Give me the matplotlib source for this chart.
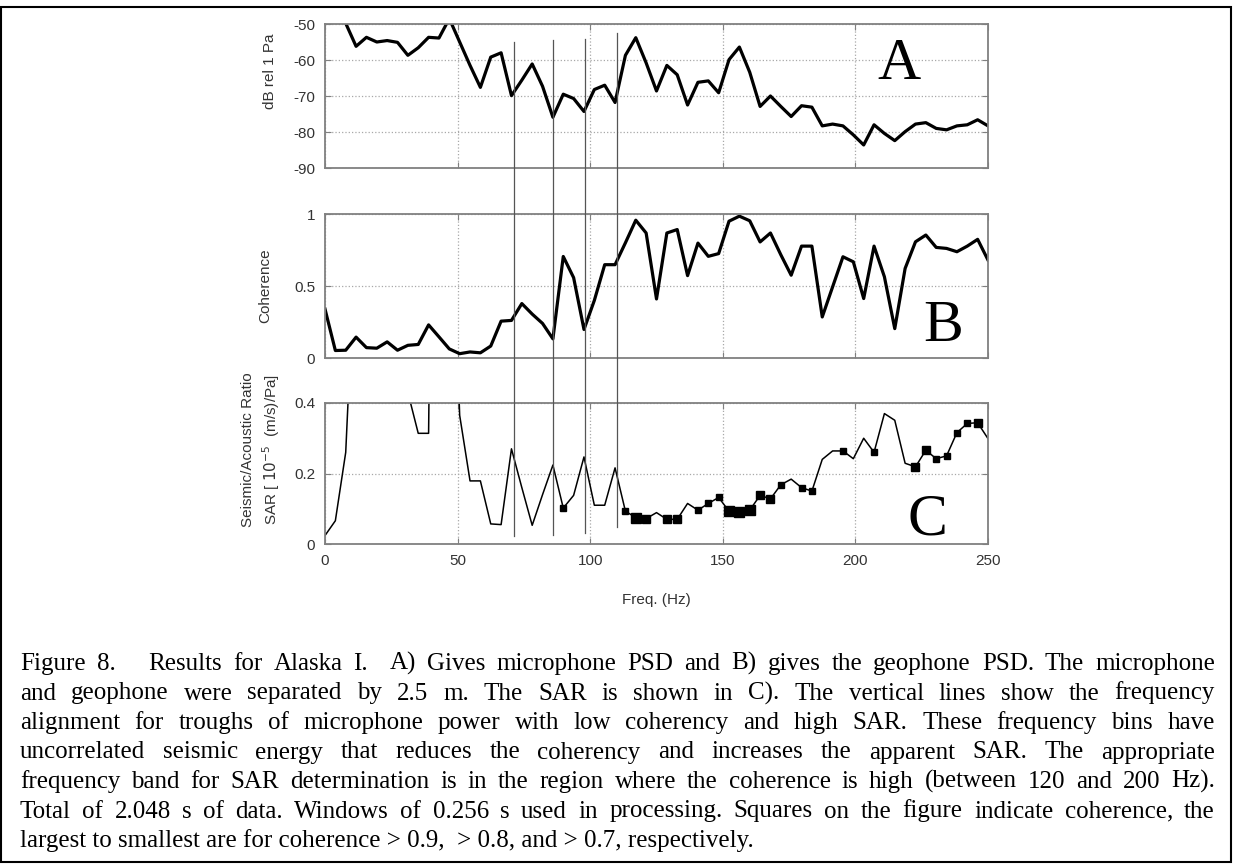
import numpy as np
import matplotlib
matplotlib.use('Agg')
import matplotlib.pyplot as plt
from matplotlib.lines import Line2D
from matplotlib.patches import Rectangle
from matplotlib.transforms import blended_transform_factory
from matplotlib.font_manager import FontProperties

plt.rcParams['font.family'] = 'Liberation Sans'
plt.rcParams['axes.unicode_minus'] = False

# frequency bins: 0.256 s windows -> 3.906 Hz resolution, 0..250 Hz
freq = np.arange(65) / 0.256

# A) microphone PSD (dB rel 1 Pa)
mic_db = np.array([
    -44.0, -46.0, -49.8, -56.2, -53.7, -55.0, -54.6, -55.1, -58.7, -56.6,
    -53.7, -53.9, -48.5, -55.0, -61.5, -67.6, -59.2, -58.0, -69.9, -65.6,
    -61.1, -67.3, -75.9, -69.5, -70.7, -74.3, -68.2, -67.0, -71.8, -58.7,
    -53.8, -60.8, -68.6, -61.5, -64.1, -72.5, -66.2, -65.8, -69.1, -59.9,
    -56.4, -63.4, -72.9, -70.0, -72.9, -75.7, -72.7, -73.1, -78.3, -77.8,
    -78.3, -80.8, -83.6, -78.0, -80.4, -82.4, -79.9, -77.8, -77.4, -79.0,
    -79.4, -78.3, -78.0, -76.6, -78.3])

# B) coherence
coherence = np.array([
    0.340, 0.052, 0.054, 0.145, 0.072, 0.068, 0.112, 0.054, 0.088, 0.094,
    0.230, 0.147, 0.063, 0.030, 0.042, 0.036, 0.083, 0.256, 0.261, 0.378,
    0.305, 0.240, 0.133, 0.705, 0.558, 0.198, 0.400, 0.648, 0.648, 0.800,
    0.957, 0.868, 0.410, 0.868, 0.892, 0.572, 0.798, 0.706, 0.725, 0.950,
    0.985, 0.953, 0.806, 0.868, 0.717, 0.575, 0.777, 0.777, 0.285, 0.494,
    0.703, 0.668, 0.413, 0.777, 0.564, 0.204, 0.622, 0.807, 0.854, 0.768,
    0.761, 0.738, 0.777, 0.824, 0.680])

# C) seismic/acoustic ratio (1e-5 (m/s)/Pa)
sar = np.array([
    0.024, 0.066, 0.260, 0.900, 1.500, 1.200, 0.900, 0.700, 0.430, 0.314,
    0.314, 3.000, 1.200, 0.365, 0.179, 0.179, 0.057, 0.055, 0.270, 0.160,
    0.053, 0.140, 0.224, 0.102, 0.138, 0.247, 0.110, 0.110, 0.216, 0.093,
    0.075, 0.072, 0.089, 0.070, 0.070, 0.115, 0.096, 0.115, 0.132, 0.093,
    0.091, 0.096, 0.138, 0.128, 0.168, 0.184, 0.160, 0.150, 0.240, 0.264,
    0.264, 0.242, 0.300, 0.260, 0.370, 0.351, 0.229, 0.219, 0.266, 0.242,
    0.250, 0.316, 0.342, 0.344, 0.299])

# frequencies of the vertical alignment lines (Hz)
trough_freqs = [71.2, 85.9, 97.9, 110.0]

# coherence thresholds for the squares
coh_levels = [0.7, 0.8, 0.9]

caption = [
    "Figure 8.   Results for Alaska I.  A) Gives microphone PSD and B) gives the geophone PSD. The microphone",
    "and geophone were separated by 2.5 m. The SAR is shown in C). The vertical lines show the frequency",
    "alignment for troughs of microphone power with low coherency and high SAR. These frequency bins have",
    "uncorrelated seismic energy that reduces the coherency and increases the apparent SAR. The appropriate",
    "frequency band for SAR determination is in the region where the coherence is high (between 120 and 200 Hz).",
    "Total of 2.048 s of data. Windows of 0.256 s used in processing. Squares on the figure indicate coherence, the",
    "largest to smallest are for coherence > 0.9,  > 0.8, and > 0.7, respectively.",
]

W, H = 1233, 867
fig = plt.figure(figsize=(W / 100, H / 100), dpi=100)
fig.patch.set_facecolor('white')


def px_axes(left, top, right, bottom):
    return fig.add_axes([left / W, 1 - bottom / H, (right - left) / W, (bottom - top) / H])


axA = px_axes(325, 24, 988, 168)
axB = px_axes(325, 214, 988, 358)
axC = px_axes(325, 403, 988, 544)

frame = '#808080'
for ax in (axA, axB, axC):
    ax.set_xlim(0, 250)
    ax.set_xticks(range(0, 251, 50))
    ax.grid(True, linestyle=':', color='#a8a8a8', linewidth=0.9)
    ax.tick_params(direction='in', length=4, color=frame, labelsize=11,
                   labelcolor='#333333', pad=7, top=True, right=True)
    for s in ax.spines.values():
        s.set_color(frame)
        s.set_linewidth(1.3)

axA.plot(freq, mic_db, color='black', lw=2.3)
axA.set_ylim(-90, -50)
axA.set_yticks([-90, -80, -70, -60, -50])
axA.set_xticklabels([])
axA.set_ylabel('dB rel 1 Pa', fontsize=11, color='#333333')
axA.yaxis.set_label_coords(-0.072, 0.67)
axA.text(216.5, -65.2, 'A', family='Liberation Serif', fontsize=43, ha='center', va='baseline')

axB.plot(freq, coherence, color='black', lw=2.3)
axB.set_ylim(0, 1)
axB.set_yticks([0, 0.5, 1])
axB.set_yticklabels(['0', '0.5', '1'])
axB.set_xticklabels([])
axB.set_ylabel('Coherence', fontsize=11, color='#333333')
axB.yaxis.set_label_coords(-0.080, 0.5)
axB.text(233, 0.118, 'B', family='Liberation Serif', fontsize=43, ha='center', va='baseline')

axC.plot(freq, sar, color='black', lw=1.1)
for thr, ms in zip(coh_levels, [4.2, 5.8, 7.6]):
    m = coherence > thr
    axC.plot(freq[m], sar[m], 's', ms=ms, color='black')
axC.set_ylim(0, 0.4)
axC.set_yticks([0, 0.2, 0.4])
axC.set_yticklabels(['0', '0.2', '0.4'])
axC.set_ylabel('Seismic/Acoustic Ratio\nSAR [ $10^{-5}$  (m/s)/Pa]', fontsize=11,
               color='#333333', linespacing=1.3)
axC.yaxis.set_label_coords(-0.065, 0.67)
axC.text(227, 0.028, 'C', family='Liberation Serif', fontsize=43, ha='center', va='baseline')

fig.text(656 / W, 1 - 600 / H, 'Freq. (Hz)', ha='center', va='center', fontsize=11, color='#333333')

# vertical alignment lines across all three panels
trans = blended_transform_factory(axC.transData, fig.transFigure)
for f, top, bot in zip(trough_freqs, [42, 40, 39, 33], [536, 535, 533, 527]):
    fig.add_artist(Line2D([f, f], [1 - top / H, 1 - bot / H], transform=trans,
                          color='#555555', lw=0.9))

# justified caption
cap_fp = FontProperties(family='Liberation Serif', size=18)
renderer = fig.canvas.get_renderer()


def text_w(s):
    if not s:
        return 0.0
    return renderer.get_text_width_height_descent(s, cap_fp, ismath=False)[0]


x0, x1 = 20, 1215
for i, line in enumerate(caption):
    y = 1 - (670 + 29.5 * i) / H
    if i == len(caption) - 1:
        fig.text(x0 / W, y, line, fontproperties=cap_fp, va='baseline')
        continue
    words = line.split(' ')
    widths = [text_w(w) for w in words]
    gap = (x1 - x0 - sum(widths)) / (len(words) - 1)
    x = x0
    for w, wd in zip(words, widths):
        if w:
            fig.text(x / W, y, w, fontproperties=cap_fp, va='baseline')
        x += wd + gap

# outer frame
fig.add_artist(Rectangle((1 / W, 1 - 862 / H), (W - 3) / W, (862 - 7) / H,
                         transform=fig.transFigure, fill=False, ec='black', lw=1.5))

fig.savefig('out.png', dpi=100)
